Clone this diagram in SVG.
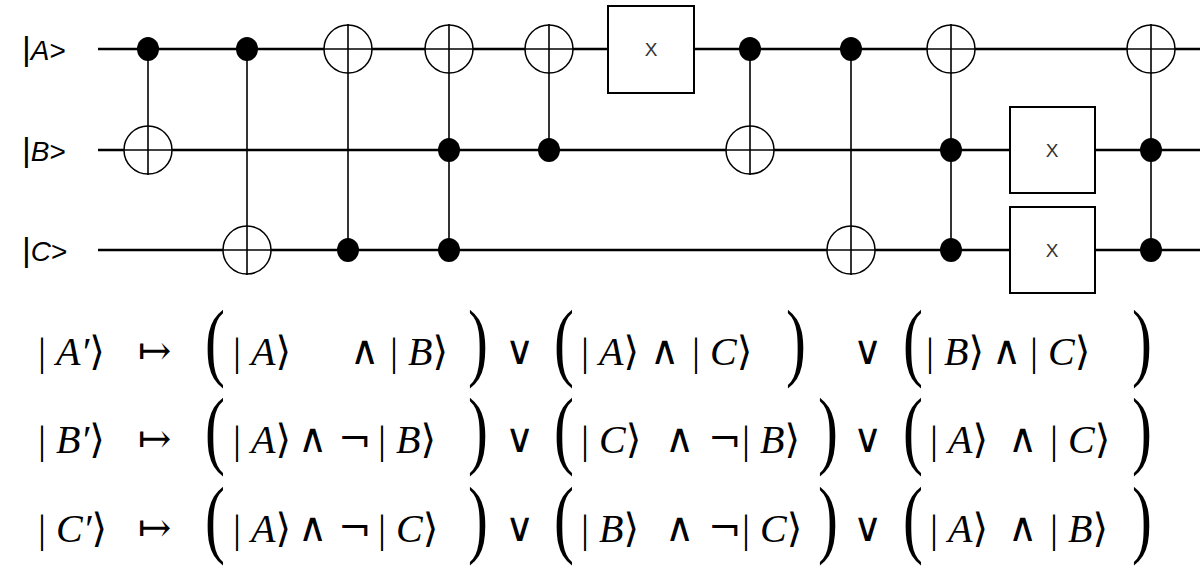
<svg xmlns="http://www.w3.org/2000/svg" width="1200" height="586" viewBox="0 0 1200 586">
<style>
.w{stroke:#000;stroke-width:2.5;fill:none}
.v{stroke:#000;stroke-width:1.6}
.t{stroke:#000;stroke-width:1.5;fill:#fff}
.d{fill:#000}
.bx{stroke:#000;stroke-width:2;fill:#fff}
.lb{font-family:"Liberation Sans",sans-serif;font-size:34px}
.xl{font-family:"Liberation Sans",sans-serif;font-size:19px;fill:#333}
.m{font-family:"Liberation Serif","DejaVu Serif",serif;font-size:40px}
.o{font-family:"DejaVu Serif",serif;font-size:40px}
.i{font-style:italic}
.p{font-family:"Liberation Serif",serif;font-size:46px}
</style>
<rect width="1200" height="586" fill="#fff"/>
<g id="wires">
<line class="w" x1="98" y1="49" x2="1200" y2="49"/>
<line class="w" x1="98" y1="150" x2="1200" y2="150"/>
<line class="w" x1="98" y1="250" x2="1200" y2="250"/>
</g>
<g id="labels">
<text class="lb" x="22" y="60">|<tspan class="i" font-size="28">A</tspan><tspan font-size="28">&gt;</tspan></text>
<text class="lb" x="22" y="161">|<tspan class="i" font-size="28">B</tspan><tspan font-size="28">&gt;</tspan></text>
<text class="lb" x="22" y="261">|<tspan class="i" font-size="28">C</tspan><tspan font-size="28">&gt;</tspan></text>
</g>
<g id="connectors">
<line class="v" x1="148" y1="49" x2="148" y2="175"/>
<line class="v" x1="247" y1="49" x2="247" y2="275"/>
<line class="v" x1="348" y1="24" x2="348" y2="250"/>
<line class="v" x1="449" y1="24" x2="449" y2="250"/>
<line class="v" x1="549" y1="24" x2="549" y2="150"/>
<line class="v" x1="750" y1="49" x2="750" y2="175"/>
<line class="v" x1="851" y1="49" x2="851" y2="275"/>
<line class="v" x1="951" y1="24" x2="951" y2="250"/>
<line class="v" x1="1151" y1="24" x2="1151" y2="250"/>
</g>
<g id="g1"><ellipse class="d" cx="148" cy="49" rx="11" ry="12"/><circle class="t" cx="148" cy="150" r="24"/><line class="v" x1="124" y1="150" x2="172" y2="150"/><line class="v" x1="148" y1="126" x2="148" y2="174"/></g>
<g id="g2"><ellipse class="d" cx="247" cy="49" rx="11" ry="12"/><circle class="t" cx="247" cy="250" r="24"/><line class="v" x1="223" y1="250" x2="271" y2="250"/><line class="v" x1="247" y1="226" x2="247" y2="274"/></g>
<g id="g3"><circle class="t" cx="348" cy="49" r="24"/><line class="v" x1="324" y1="49" x2="372" y2="49"/><line class="v" x1="348" y1="25" x2="348" y2="73"/><ellipse class="d" cx="348" cy="250" rx="11" ry="12"/></g>
<g id="g4"><circle class="t" cx="449" cy="49" r="24"/><line class="v" x1="425" y1="49" x2="473" y2="49"/><line class="v" x1="449" y1="25" x2="449" y2="73"/><ellipse class="d" cx="449" cy="150" rx="11" ry="12"/><ellipse class="d" cx="449" cy="250" rx="11" ry="12"/></g>
<g id="g5"><circle class="t" cx="549" cy="49" r="24"/><line class="v" x1="525" y1="49" x2="573" y2="49"/><line class="v" x1="549" y1="25" x2="549" y2="73"/><ellipse class="d" cx="549" cy="150" rx="11" ry="12"/></g>
<g id="g6"><rect class="bx" x="608" y="6" width="86" height="87"/><text class="xl" x="651" y="56" text-anchor="middle">X</text></g>
<g id="g7"><ellipse class="d" cx="750" cy="49" rx="11" ry="12"/><circle class="t" cx="750" cy="150" r="24"/><line class="v" x1="726" y1="150" x2="774" y2="150"/><line class="v" x1="750" y1="126" x2="750" y2="174"/></g>
<g id="g8"><ellipse class="d" cx="851" cy="49" rx="11" ry="12"/><circle class="t" cx="851" cy="250" r="24"/><line class="v" x1="827" y1="250" x2="875" y2="250"/><line class="v" x1="851" y1="226" x2="851" y2="274"/></g>
<g id="g9"><circle class="t" cx="951" cy="49" r="24"/><line class="v" x1="927" y1="49" x2="975" y2="49"/><line class="v" x1="951" y1="25" x2="951" y2="73"/><ellipse class="d" cx="951" cy="150" rx="11" ry="12"/><ellipse class="d" cx="951" cy="250" rx="11" ry="12"/></g>
<g id="g10"><rect class="bx" x="1010" y="107" width="85" height="86"/><text class="xl" x="1052" y="157" text-anchor="middle">X</text></g>
<g id="g11"><rect class="bx" x="1010" y="207" width="85" height="86"/><text class="xl" x="1052" y="257" text-anchor="middle">X</text></g>
<g id="g12"><circle class="t" cx="1151" cy="49" r="24"/><line class="v" x1="1127" y1="49" x2="1175" y2="49"/><line class="v" x1="1151" y1="25" x2="1151" y2="73"/><ellipse class="d" cx="1151" cy="150" rx="11" ry="12"/><ellipse class="d" cx="1151" cy="250" rx="11" ry="12"/></g>
<g id="equations">
<g id="eq1">
<text class="m" x="38" y="365">| <tspan class="i">A′</tspan>⟩</text>
<text class="o" x="138" y="364">↦</text>
<text class="p" transform="translate(205,370) scale(1.3,1.9)">(</text>
<text class="m" x="233" y="365">| <tspan class="i">A</tspan>⟩</text>
<text class="o" x="350" y="364">∧</text>
<text class="m" x="390" y="365">| <tspan class="i">B</tspan>⟩</text>
<text class="p" transform="translate(468,370) scale(1.3,1.9)">)</text>
<text class="o" x="505" y="364">∨</text>
<text class="p" transform="translate(554,370) scale(1.3,1.9)">(</text>
<text class="m" x="581" y="365">| <tspan class="i">A</tspan>⟩</text>
<text class="o" x="650" y="364">∧</text>
<text class="m" x="692" y="365">| <tspan class="i">C</tspan>⟩</text>
<text class="p" transform="translate(786,370) scale(1.3,1.9)">)</text>
<text class="o" x="853" y="364">∨</text>
<text class="p" transform="translate(903,370) scale(1.3,1.9)">(</text>
<text class="m" x="926" y="365">| <tspan class="i">B</tspan>⟩</text>
<text class="o" x="992" y="364">∧</text>
<text class="m" x="1030" y="365">| <tspan class="i">C</tspan>⟩</text>
<text class="p" transform="translate(1132,370) scale(1.3,1.9)">)</text>
</g>
<g id="eq2">
<text class="m" x="38" y="453">| <tspan class="i">B′</tspan>⟩</text>
<text class="o" x="138" y="452">↦</text>
<text class="p" transform="translate(205,458) scale(1.3,1.9)">(</text>
<text class="m" x="233" y="453">| <tspan class="i">A</tspan>⟩</text>
<text class="o" x="298" y="452">∧</text>
<text class="o" x="338" y="452">¬</text>
<text class="m" x="378" y="453">| <tspan class="i">B</tspan>⟩</text>
<text class="p" transform="translate(468,458) scale(1.3,1.9)">)</text>
<text class="o" x="505" y="452">∨</text>
<text class="p" transform="translate(554,458) scale(1.3,1.9)">(</text>
<text class="m" x="581" y="453">| <tspan class="i">C</tspan>⟩</text>
<text class="o" x="665" y="452">∧</text>
<text class="o" x="708" y="452">¬</text>
<text class="m" x="742" y="453">| <tspan class="i">B</tspan>⟩</text>
<text class="p" transform="translate(818,458) scale(1.3,1.9)">)</text>
<text class="o" x="853" y="452">∨</text>
<text class="p" transform="translate(903,458) scale(1.3,1.9)">(</text>
<text class="m" x="930" y="453">| <tspan class="i">A</tspan>⟩</text>
<text class="o" x="1008" y="452">∧</text>
<text class="m" x="1050" y="453">| <tspan class="i">C</tspan>⟩</text>
<text class="p" transform="translate(1132,458) scale(1.3,1.9)">)</text>
</g>
<g id="eq3">
<text class="m" x="38" y="542">| <tspan class="i">C′</tspan>⟩</text>
<text class="o" x="138" y="541">↦</text>
<text class="p" transform="translate(205,547) scale(1.3,1.9)">(</text>
<text class="m" x="233" y="542">| <tspan class="i">A</tspan>⟩</text>
<text class="o" x="298" y="541">∧</text>
<text class="o" x="338" y="541">¬</text>
<text class="m" x="378" y="542">| <tspan class="i">C</tspan>⟩</text>
<text class="p" transform="translate(468,547) scale(1.3,1.9)">)</text>
<text class="o" x="505" y="541">∨</text>
<text class="p" transform="translate(554,547) scale(1.3,1.9)">(</text>
<text class="m" x="581" y="542">| <tspan class="i">B</tspan>⟩</text>
<text class="o" x="665" y="541">∧</text>
<text class="o" x="708" y="541">¬</text>
<text class="m" x="742" y="542">| <tspan class="i">C</tspan>⟩</text>
<text class="p" transform="translate(818,547) scale(1.3,1.9)">)</text>
<text class="o" x="853" y="541">∨</text>
<text class="p" transform="translate(903,547) scale(1.3,1.9)">(</text>
<text class="m" x="930" y="542">| <tspan class="i">A</tspan>⟩</text>
<text class="o" x="1008" y="541">∧</text>
<text class="m" x="1050" y="542">| <tspan class="i">B</tspan>⟩</text>
<text class="p" transform="translate(1132,547) scale(1.3,1.9)">)</text>
</g>
</g>
</svg>
